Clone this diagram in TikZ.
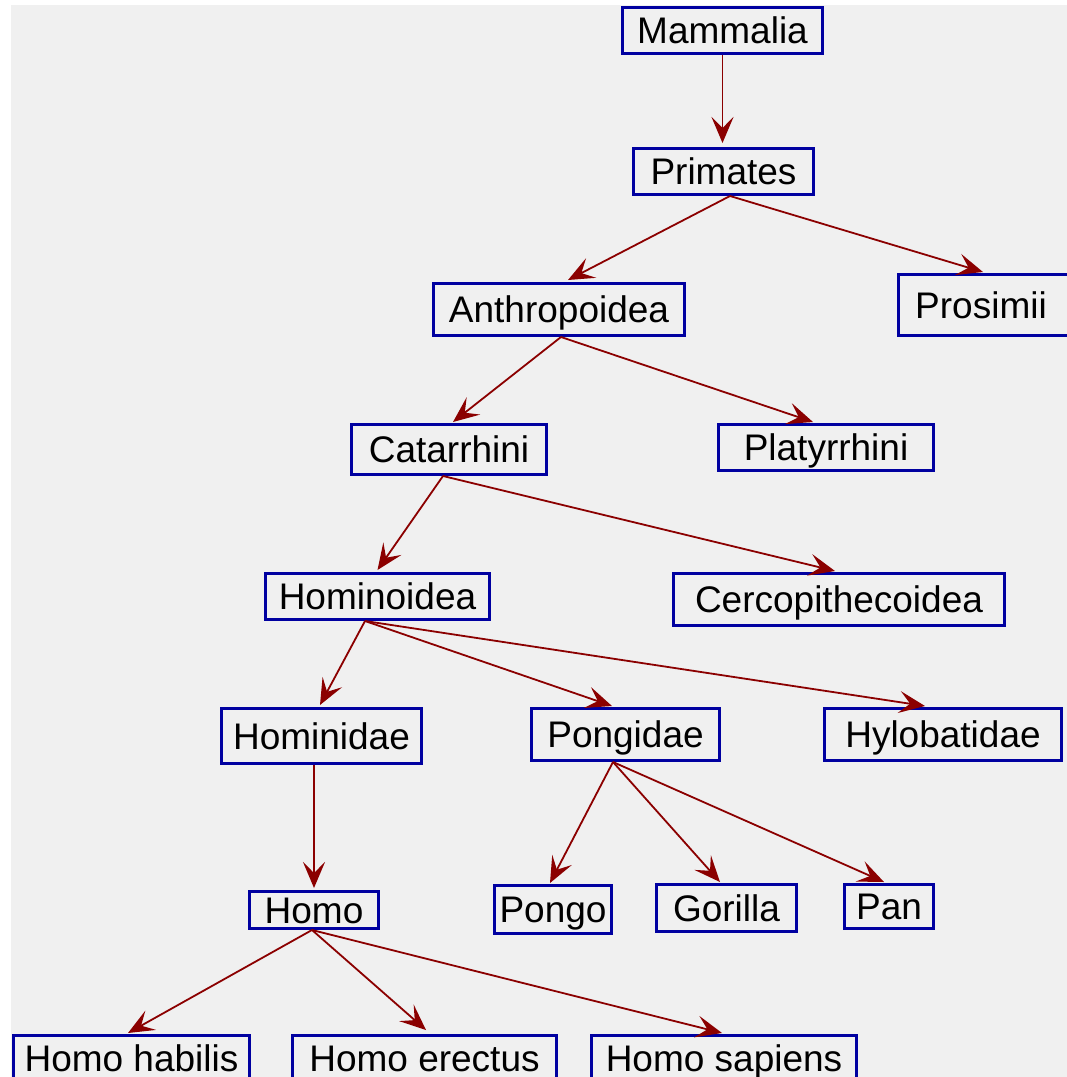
\documentclass[tikz,border=0pt]{standalone}
\usepackage{fontspec}
\setmainfont{Liberation Sans}
\usetikzlibrary{arrows.meta}
\definecolor{taxonblue}{RGB}{0,0,160}
\definecolor{taxonred}{RGB}{139,0,0}
\definecolor{panelgray}{RGB}{240,240,240}
\begin{document}
\begin{tikzpicture}
[x=1pt,y=-1pt,%
  taxon/.style={draw=taxonblue,line width=3pt,fill=panelgray,inner sep=0pt,%
    text height=26.5pt,text depth=0pt},%
  link/.style={draw=taxonred,line width=1.8pt,%
    -{Stealth[length=26pt,width=22pt,inset=11pt]}}]
\useasboundingbox (0,0) rectangle (1067,1077);
\clip (0,0) rectangle (1067,1077);
\fill[panelgray] (11,5) rectangle (1067,1077);
\fontsize{37}{40}\selectfont
\node[taxon,minimum width=200pt,minimum height=46pt] (mammalia) at (722.5,30.5) {Mammalia};
\node[taxon,minimum width=180pt,minimum height=46pt] (primates) at (723.5,171.5) {Primates};
\node[taxon,minimum width=251pt,minimum height=52pt] (anthropoidea) at (559,309.5) {Anthropoidea};
\node[taxon,minimum width=185pt,minimum height=61pt] (prosimii) at (991,305) {\hspace{-20pt}Prosimii};
\node[taxon,minimum width=195pt,minimum height=50pt] (catarrhini) at (449,449.5) {Catarrhini};
\node[taxon,minimum width=215pt,minimum height=46pt] (platyrrhini) at (826,447.5) {Platyrrhini};
\node[taxon,minimum width=224pt,minimum height=46pt] (hominoidea) at (377.5,596.5) {Hominoidea};
\node[taxon,minimum width=331pt,minimum height=52pt] (cercopithecoidea) at (839,599.5) {Cercopithecoidea};
\node[taxon,minimum width=200pt,minimum height=55pt] (hominidae) at (321.5,736) {Hominidae};
\node[taxon,minimum width=188pt,minimum height=52pt] (pongidae) at (625.5,734.5) {Pongidae};
\node[taxon,minimum width=237pt,minimum height=52pt] (hylobatidae) at (943,734.5) {Hylobatidae};
\node[taxon,minimum width=129pt,minimum height=37pt] (homo) at (314,910) {Homo};
\node[taxon,minimum width=117pt,minimum height=48pt] (pongo) at (553,909.5) {Pongo};
\node[taxon,minimum width=140pt,minimum height=47pt] (gorilla) at (726.5,908) {Gorilla};
\node[taxon,minimum width=89pt,minimum height=44pt] (pan) at (889,906.5) {Pan};
\node[taxon,minimum width=236pt,minimum height=45pt] (habilis) at (131.5,1058) {Homo habilis};
\node[taxon,minimum width=264pt,minimum height=45pt] (erectus) at (424.5,1058) {Homo erectus};
\node[taxon,minimum width=265pt,minimum height=45pt] (sapiens) at (724,1058) {Homo sapiens};
\draw[link] (mammalia.south) -- ([yshift=4pt]mammalia.south |- primates.north);
\draw[link] ([xshift=6.5pt]primates.south) -- ([xshift=9pt,yshift=2pt]anthropoidea.north);
\draw[link] ([xshift=6.5pt]primates.south) -- ([xshift=-8pt,yshift=1pt]prosimii.north);
\draw[link] ([xshift=2pt]anthropoidea.south) -- ([xshift=4pt,yshift=1pt]catarrhini.north);
\draw[link] ([xshift=2pt]anthropoidea.south) -- ([xshift=-13pt,yshift=1pt]platyrrhini.north);
\draw[link] ([xshift=-6pt]catarrhini.south) -- ([yshift=2pt]hominoidea.north);
\draw[link] ([xshift=-6pt]catarrhini.south) -- ([xshift=-4pt,yshift=1pt]cercopithecoidea.north);
\draw[link] ([xshift=-12.5pt]hominoidea.south) -- ([xshift=-1.5pt,yshift=2pt]hominidae.north);
\draw[link] ([xshift=-12.5pt]hominoidea.south) -- ([xshift=-13.5pt,yshift=1pt]pongidae.north);
\draw[link] ([xshift=-12.5pt]hominoidea.south) -- ([xshift=-18pt,yshift=1pt]hylobatidae.north);
\draw[link] ([xshift=-7.5pt]hominidae.south) -- ([xshift=-7.5pt,yshift=2pt]hominidae.south |- homo.north);
\draw[link] ([xshift=-12.5pt]pongidae.south) -- ([xshift=-3pt,yshift=1pt]pongo.north);
\draw[link] ([xshift=-12.5pt]pongidae.south) -- ([xshift=-6.5pt,yshift=1pt]gorilla.north);
\draw[link] ([xshift=-12.5pt]pongidae.south) -- ([xshift=-5pt,yshift=1pt]pan.north);
\draw[link] ([xshift=-2pt]homo.south) -- ([xshift=-3.5pt,yshift=1pt]habilis.north);
\draw[link] ([xshift=-2pt]homo.south) -- ([xshift=1.5pt,yshift=4pt]erectus.north);
\draw[link] ([xshift=-2pt]homo.south) -- ([xshift=-2pt,yshift=1pt]sapiens.north);
\end{tikzpicture}
\end{document}
